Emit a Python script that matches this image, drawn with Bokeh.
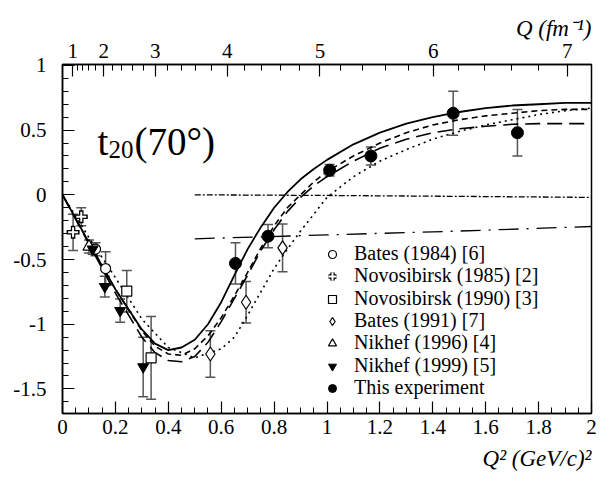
from bokeh.plotting import figure
from bokeh.models import (ColumnDataSource, Whisker, TeeHead, Legend, LegendItem, Label, Title,
                          LinearAxis, FixedTicker, SingleIntervalTicker, NumeralTickFormatter,
                          CustomJSTickFormatter, Range1d)
from bokeh.embed import file_html
from bokeh.resources import INLINE

FONT = "Liberation Serif"
HBARC = 0.19733  # GeV fm, for the Q (fm^-1) top axis

# ---------------- theory curves ----------------
x_curve = [0, 0.1, 0.2, 0.3, 0.35, 0.4, 0.45, 0.5, 0.55, 0.6, 0.65, 0.7, 0.75, 0.8, 0.85,
           0.9, 0.95, 1.0, 1.1, 1.2, 1.3, 1.4, 1.5, 1.6, 1.7, 1.8, 1.9, 2.0]
y_solid = [0, -0.37, -0.73, -1.04, -1.15, -1.20, -1.18, -1.12, -1.00, -0.83, -0.62, -0.42,
           -0.25, -0.10, 0.02, 0.12, 0.20, 0.27, 0.39, 0.48, 0.55, 0.60, 0.64, 0.67, 0.69,
           0.70, 0.71, 0.71]
y_short = [0, -0.37, -0.73, -1.05, -1.17, -1.23, -1.24, -1.19, -1.09, -0.95, -0.78, -0.60,
           -0.41, -0.24, -0.10, 0.00, 0.10, 0.18, 0.30, 0.40, 0.48, 0.54, 0.58, 0.61, 0.63,
           0.65, 0.66, 0.66]
y_long = [0, -0.38, -0.76, -1.10, -1.22, -1.28, -1.29, -1.25, -1.14, -0.98, -0.80, -0.62,
          -0.43, -0.27, -0.13, -0.02, 0.07, 0.14, 0.26, 0.36, 0.43, 0.48, 0.51, 0.53, 0.545,
          0.55, 0.55, 0.55]
x_dot = [0, 0.1, 0.2, 0.3, 0.4, 0.5, 0.6, 0.65, 0.7, 0.75, 0.8, 0.85, 0.9, 1.0, 1.1, 1.2,
         1.3, 1.4, 1.5, 1.6, 1.7, 1.8, 1.9, 2.0]
y_dot = [0, -0.33, -0.64, -0.96, -1.18, -1.26, -1.19, -1.10, -0.93, -0.75, -0.57, -0.42,
         -0.28, -0.02, 0.14, 0.26, 0.35, 0.43, 0.49, 0.54, 0.58, 0.62, 0.65, 0.67]
x_flat = [0.5, 1.0, 1.5, 2.0]
y_flat1 = [0.0, -0.005, -0.012, -0.02]
y_flat2 = [-0.34, -0.31, -0.28, -0.245]

# ---------------- data ----------------
bates84_x = [0.125, 0.163]
bates84_y = [-0.42, -0.57]
bates84_e = [0.05, 0.13]

novo85_x = [0.04, 0.071]
novo85_y = [-0.29, -0.17]
novo85_e = [0.14, 0.07]

novo90_x = [0.243, 0.335]
novo90_y = [-0.745, -1.26]
novo90_e = [0.16, 0.32]

bates91_x = [0.559, 0.694, 0.832]
bates91_y = [-1.23, -0.83, -0.41]
bates91_e = [0.18, 0.16, 0.185]

nik96_x = [0.10]
nik96_y = [-0.40]
nik96_e = [0.05]

nik99_x = [0.114, 0.16, 0.218, 0.305]
nik99_y = [-0.42, -0.71, -0.895, -1.33]
nik99_e = [0.04, 0.08, 0.09, 0.23]

this_x = [0.654, 0.777, 1.01, 1.166, 1.477, 1.72]
this_y = [-0.53, -0.32, 0.19, 0.30, 0.63, 0.48]
this_e = [0.16, 0.09, 0.045, 0.07, 0.17, 0.18]

legend_labels = ["Bates (1984) [6]", "Novosibirsk (1985) [2]", "Novosibirsk (1990) [3]",
                 "Bates (1991) [7]", "Nikhef (1996) [4]", "Nikhef (1999) [5]",
                 "This experiment"]

top_q_major = [1, 2, 3, 4, 5, 6, 7]
top_q_minor = [1.2, 1.4, 1.6, 1.8, 2.2, 2.4, 2.6, 2.8, 3.2, 3.4, 3.6, 3.8, 4.2, 4.4, 4.6,
               4.8, 5.2, 5.4, 5.6, 5.8, 6.2, 6.4, 6.6, 6.8, 7.2]

p = figure(width=597, height=483, output_backend="svg", toolbar_location=None,
           x_range=Range1d(0, 2), y_range=Range1d(-1.69, 1.007),
           min_border_left=62, min_border_right=6, min_border_top=64, min_border_bottom=70)
p.background_fill_color = "white"
p.border_fill_color = "white"
p.outline_line_color = "black"
p.outline_line_width = 1.5
p.xgrid.visible = False
p.ygrid.visible = False

def style_axis(ax):
    ax.axis_line_color = "black"
    ax.axis_line_width = 1.5
    ax.major_tick_line_color = "black"
    ax.minor_tick_line_color = "black"
    ax.major_tick_line_width = 1.2
    ax.minor_tick_line_width = 1.0
    ax.major_tick_in = 12
    ax.major_tick_out = 0
    ax.minor_tick_in = 6
    ax.minor_tick_out = 0
    ax.major_label_text_font = FONT
    ax.major_label_text_font_size = "21px"
    ax.major_label_text_color = "black"

xa = p.xaxis[0]
xa.ticker = SingleIntervalTicker(interval=0.2, num_minor_ticks=4)
xa.formatter = NumeralTickFormatter(format="0.[0]")
style_axis(xa)
xa.major_label_standoff = 6

ya = p.yaxis[0]
ya.ticker = SingleIntervalTicker(interval=0.5, num_minor_ticks=5)
ya.formatter = NumeralTickFormatter(format="0.[0]")
style_axis(ya)
ya.major_label_standoff = 16

top = LinearAxis(ticker=FixedTicker(ticks=[(q * HBARC) ** 2 for q in top_q_major],
                                    minor_ticks=[(q * HBARC) ** 2 for q in top_q_minor]),
                 formatter=CustomJSTickFormatter(code="return (Math.sqrt(tick)/%f).toFixed(0)" % HBARC))
style_axis(top)
top.major_label_standoff = 7
p.add_layout(top, "above")

# axis titles (right-aligned, as Titles in the side panels)
p.add_layout(Title(text="Q (fm⁻¹)", align="right", text_font=FONT, text_font_style="italic",
                   text_font_size="23px", text_color="black", standoff=0), "above")
p.add_layout(Title(text="Q² (GeV/c)²", align="right", text_font=FONT, text_font_style="italic",
                   text_font_size="23px", text_color="black", standoff=14), "below")

# curves
lw = 1.6
p.line(x_curve, y_solid, line_color="black", line_width=1.8)
p.line(x_curve, y_short, line_color="black", line_width=lw, line_dash="6 4")
p.line(x_curve, y_long, line_color="black", line_width=lw, line_dash="15 7")
p.line(x_dot, y_dot, line_color="black", line_width=lw, line_dash="2 4")
p.line(x_flat, y_flat1, line_color="black", line_width=1.3, line_dash="6 2 2 2")
p.line(x_flat, y_flat2, line_color="black", line_width=1.3, line_dash="20 8 2 8")

ERRC = "#555555"

def errbars(xs, ys, es):
    src = ColumnDataSource(dict(x=xs, upper=[y + e for y, e in zip(ys, es)],
                                lower=[y - e for y, e in zip(ys, es)]))
    w = Whisker(source=src, base="x", upper="upper", lower="lower", dimension="height",
                line_color=ERRC, line_width=1.5,
                upper_head=TeeHead(size=10, line_color=ERRC, line_width=1.5),
                lower_head=TeeHead(size=10, line_color=ERRC, line_width=1.5))
    p.add_layout(w)

for xs, ys, es in [(novo85_x, novo85_y, novo85_e), (bates84_x, bates84_y, bates84_e),
                   (novo90_x, novo90_y, novo90_e), (bates91_x, bates91_y, bates91_e),
                   (nik96_x, nik96_y, nik96_e), (nik99_x, nik99_y, nik99_e),
                   (this_x, this_y, this_e)]:
    errbars(xs, ys, es)

r_b84 = p.scatter(bates84_x, bates84_y, marker="circle", size=10, fill_color="white",
                  line_color="black", line_width=1.2)
r_n85a = p.scatter(novo85_x, novo85_y, marker="cross", size=13, line_color="black", line_width=4.5)
r_n85b = p.scatter(novo85_x, novo85_y, marker="cross", size=10, line_color="white", line_width=2)
r_n90 = p.scatter(novo90_x, novo90_y, marker="square", size=10, fill_color="white",
                  line_color="black", line_width=1.2)
r_b91 = p.scatter(bates91_x, bates91_y, marker="diamond", size=14, fill_color="white",
                  line_color="black", line_width=1.2)
r_n96 = p.scatter(nik96_x, nik96_y, marker="triangle", size=12, fill_color="white",
                  line_color="black", line_width=1.2)
r_n99 = p.scatter(nik99_x, nik99_y, marker="inverted_triangle", size=11, fill_color="black",
                  line_color="black")
r_this = p.scatter(this_x, this_y, marker="circle", size=12, fill_color="black",
                   line_color="black")

legend_renderers = [[r_b84], [r_n85a, r_n85b], [r_n90], [r_b91], [r_n96], [r_n99], [r_this]]
legend_bottoms = [148, 126, 103, 81, 59, 36, 14]   # one small legend per entry, px above frame bottom
for lab, rends, yb in zip(legend_labels, legend_renderers, legend_bottoms):
    lg = Legend(items=[LegendItem(label=lab, renderers=rends)], location=(260, yb))
    lg.label_text_font = FONT
    lg.label_text_font_size = "20px"
    lg.label_text_color = "black"
    lg.glyph_height = 20
    lg.glyph_width = 20
    lg.label_height = 20
    lg.spacing = 0
    lg.padding = 0
    lg.margin = 0
    lg.label_standoff = 12
    lg.border_line_color = None
    lg.background_fill_alpha = 0
    p.add_layout(lg)

# t20(70 deg) label inside the frame
def add_text(x, y, text, size, **kw):
    p.add_layout(Label(x=x, y=y, text=text, text_font=FONT, text_font_size=size,
                       text_color="black", text_baseline="alphabetic", **kw))

add_text(0.132, 0.415, "t", "39px")
add_text(0.174, 0.353, "20", "25px")
add_text(0.272, 0.415, "(70°)", "39px")

open("out.html", "w").write(file_html(p, INLINE))
